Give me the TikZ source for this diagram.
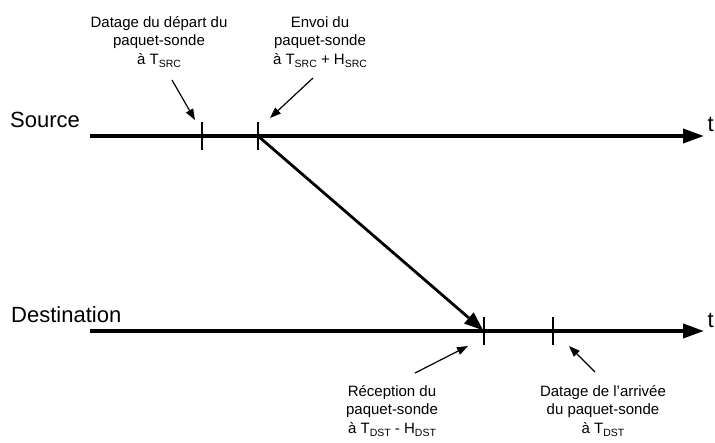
\documentclass[tikz,border=0pt]{standalone}
\usepackage{fontspec}
\setmainfont{Liberation Sans}
\usetikzlibrary{arrows.meta}
\newcommand\lowsub[1]{\raisebox{-0.45ex}{\fontsize{10.5}{11}\selectfont #1}}
\begin{document}
\begin{tikzpicture}[x=1pt,y=-1pt,
  axis/.style={line width=3.6pt,-{Triangle[length=21pt,width=14pt]}},
  tickmark/.style={line width=1.8pt},
  msg/.style={line width=2.8pt,-{Triangle[length=19pt,width=14pt]},shorten >=1pt},
  note/.style={line width=1.2pt,-{Triangle[length=11pt,width=8pt]}},
  lbl/.style={font=\fontsize{15}{18.5}\selectfont,align=center,inner sep=0pt},
  big/.style={font=\fontsize{22}{26}\selectfont,inner sep=0pt}]
\useasboundingbox (0,0) rectangle (715,442);
% axes
\coordinate (s0) at (90,136);
\coordinate (s1) at (704,136);
\coordinate (d0) at (90,331);
\coordinate (d1) at (704,331);
\draw[axis] (s0) -- (s1);
\draw[axis] (d0) -- (d1);
\node[big,anchor=base west] (src) at (10,127) {Source};
\node[big,anchor=base west] (dst) at (11,322) {Destination};
\node[big,anchor=base west] (ts) at (707.5,131) {t};
\node[big,anchor=base west] (td) at (707.5,327) {t};
% ticks
\coordinate (ta) at (202,136);
\coordinate (tb) at (258,136);
\coordinate (tc) at (484,331);
\coordinate (tdd) at (553,331);
\draw[tickmark] (202,122) -- (202,150);
\draw[tickmark] (258,122) -- (258,150);
\draw[tickmark] (484,317) -- (484,345);
\draw[tickmark] (553,317) -- (553,345);
% message
\draw[msg] (tb) -- (tc);
% labels
\node[lbl,anchor=north] (la) at (159,16) {Datage du départ du\\paquet-sonde\\à T\lowsub{SRC}};
\node[lbl,anchor=north] (lb) at (320,16) {Envoi du\\paquet-sonde\\à T\lowsub{SRC} + H\lowsub{SRC}};
\node[lbl,anchor=north] (lc) at (392,385) {Réception du\\paquet-sonde\\à T\lowsub{DST} - H\lowsub{DST}};
\node[lbl,anchor=north] (ld) at (603,385) {Datage de l’arrivée\\du paquet-sonde\\à T\lowsub{DST}};
% annotation arrows
\coordinate (a1) at (172,80); \coordinate (a2) at (195,120);
\coordinate (b1) at (313,78); \coordinate (b2) at (270,118);
\coordinate (c1) at (415,373); \coordinate (c2) at (468,346);
\coordinate (e1) at (595,372); \coordinate (e2) at (569,346);
\draw[note] (a1) -- (a2);
\draw[note] (b1) -- (b2);
\draw[note] (c1) -- (c2);
\draw[note] (e1) -- (e2);
\end{tikzpicture}
\end{document}
